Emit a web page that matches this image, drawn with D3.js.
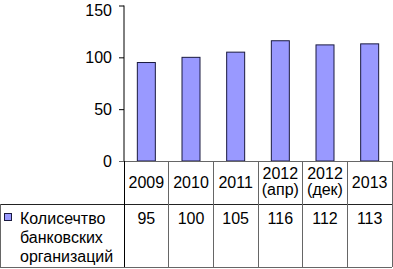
<!DOCTYPE html>
<html>
<head>
<meta charset="utf-8">
<script src="https://cdn.jsdelivr.net/npm/d3@7"></script>
<style>
  body { margin: 0; background: #fff; }
  svg { display: block; font-family: Arial, "Liberation Sans", sans-serif; }
</style>
</head>
<body>
<svg width="393" height="269"></svg>
<script>
// data
const categories = ["2009", "2010", "2011", "2012 (апр)", "2012 (дек)", "2013"];
const categoryLines = [["2009"], ["2010"], ["2011"], ["2012", "(апр)"], ["2012", "(дек)"], ["2013"]];
const values = [95, 100, 105, 116, 112, 113];
const seriesName = ["Колисечтво", "банковских", "организаций"];
const yTicks = [0, 50, 100, 150];

const svg = d3.select("svg");
const plotLeft = 124, plotRight = 392, plotTop = 5.5, plotBase = 161;
const rowSplit = 204, tableBottom = 267;
const fontSize = 16;

const x = d3.scaleBand().domain(categories).range([plotLeft, plotRight]).padding(0);
const y = d3.scaleLinear().domain([0, 150]).range([plotBase, plotTop]);

// bars
svg.selectAll(".bar")
    .data(values)
    .join("rect")
    .attr("class", "bar")
    .attr("x", (d, i) => x(categories[i]) + x.bandwidth() / 2 - 9)
    .attr("y", d => y(d))
    .attr("width", 18)
    .attr("height", d => plotBase - y(d))
    .attr("fill", "#9999ff")
    .attr("stroke", "#1a1a40")
    .attr("stroke-width", 1);

// y axis
const yAxis = svg.append("g")
    .attr("transform", `translate(${plotLeft},0)`)
    .call(d3.axisLeft(y).tickValues(yTicks).tickSize(5).tickPadding(7));
yAxis.select(".domain").attr("stroke", "#000").attr("d", `M0,${plotTop}H0V${plotBase}`);
yAxis.selectAll(".tick line").attr("stroke", "#000");
yAxis.selectAll(".tick text")
    .attr("font-size", fontSize)
    .attr("fill", "#000")
    .attr("font-family", "Arial, 'Liberation Sans', sans-serif");
// top label sits against the edge of the picture
yAxis.selectAll(".tick").filter(d => d === 150).select("text").attr("dy", "0.62em");
yAxis.selectAll(".tick").filter(d => d === 0).select("line").attr("stroke", "#777");

// table grid
const grid = svg.append("g").attr("stroke", "#666").attr("stroke-width", 1).attr("shape-rendering", "crispEdges");
grid.append("line").attr("x1", plotLeft - 5).attr("x2", plotRight).attr("y1", plotBase).attr("y2", plotBase);
grid.append("line").attr("x1", 0).attr("x2", plotRight).attr("y1", rowSplit).attr("y2", rowSplit).attr("stroke", "#222");
grid.append("line").attr("x1", 0).attr("x2", plotRight).attr("y1", tableBottom).attr("y2", tableBottom);
grid.append("line").attr("x1", 0.5).attr("x2", 0.5).attr("y1", rowSplit).attr("y2", tableBottom);
grid.selectAll(".vline")
    .data(categories.concat(["end"]))
    .join("line")
    .attr("x1", (d, i) => i < categories.length ? x(d) : plotRight)
    .attr("x2", (d, i) => i < categories.length ? x(d) : plotRight)
    .attr("y1", plotBase)
    .attr("y2", tableBottom)
    .attr("stroke", (d, i) => i === 0 ? "#000" : "#666");

// header labels
svg.selectAll(".cat")
    .data(categoryLines)
    .join("text")
    .attr("class", "cat")
    .attr("font-size", fontSize)
    .attr("text-anchor", "middle")
    .attr("fill", "#000")
    .each(function (lines, i) {
        const cx = x(categories[i]) + x.bandwidth() / 2;
        const y0 = lines.length === 1 ? 188 : 179;
        d3.select(this).selectAll("tspan")
            .data(lines)
            .join("tspan")
            .attr("x", cx)
            .attr("y", (l, j) => y0 + j * 16)
            .text(l => l);
    });

// values row
svg.selectAll(".val")
    .data(values)
    .join("text")
    .attr("class", "val")
    .attr("x", (d, i) => x(categories[i]) + x.bandwidth() / 2)
    .attr("y", 224)
    .attr("font-size", fontSize)
    .attr("text-anchor", "middle")
    .attr("fill", "#000")
    .text(d => d);

// legend key
svg.append("rect")
    .attr("x", 4.5).attr("y", 213.5).attr("width", 7).attr("height", 7)
    .attr("fill", "#9999ff").attr("stroke", "#1a1a40");
svg.append("text")
    .attr("font-size", fontSize)
    .attr("fill", "#000")
    .selectAll("tspan")
    .data(seriesName)
    .join("tspan")
    .attr("x", 20)
    .attr("y", (d, i) => 224 + i * 19)
    .text(d => d);
</script>
</body>
</html>
